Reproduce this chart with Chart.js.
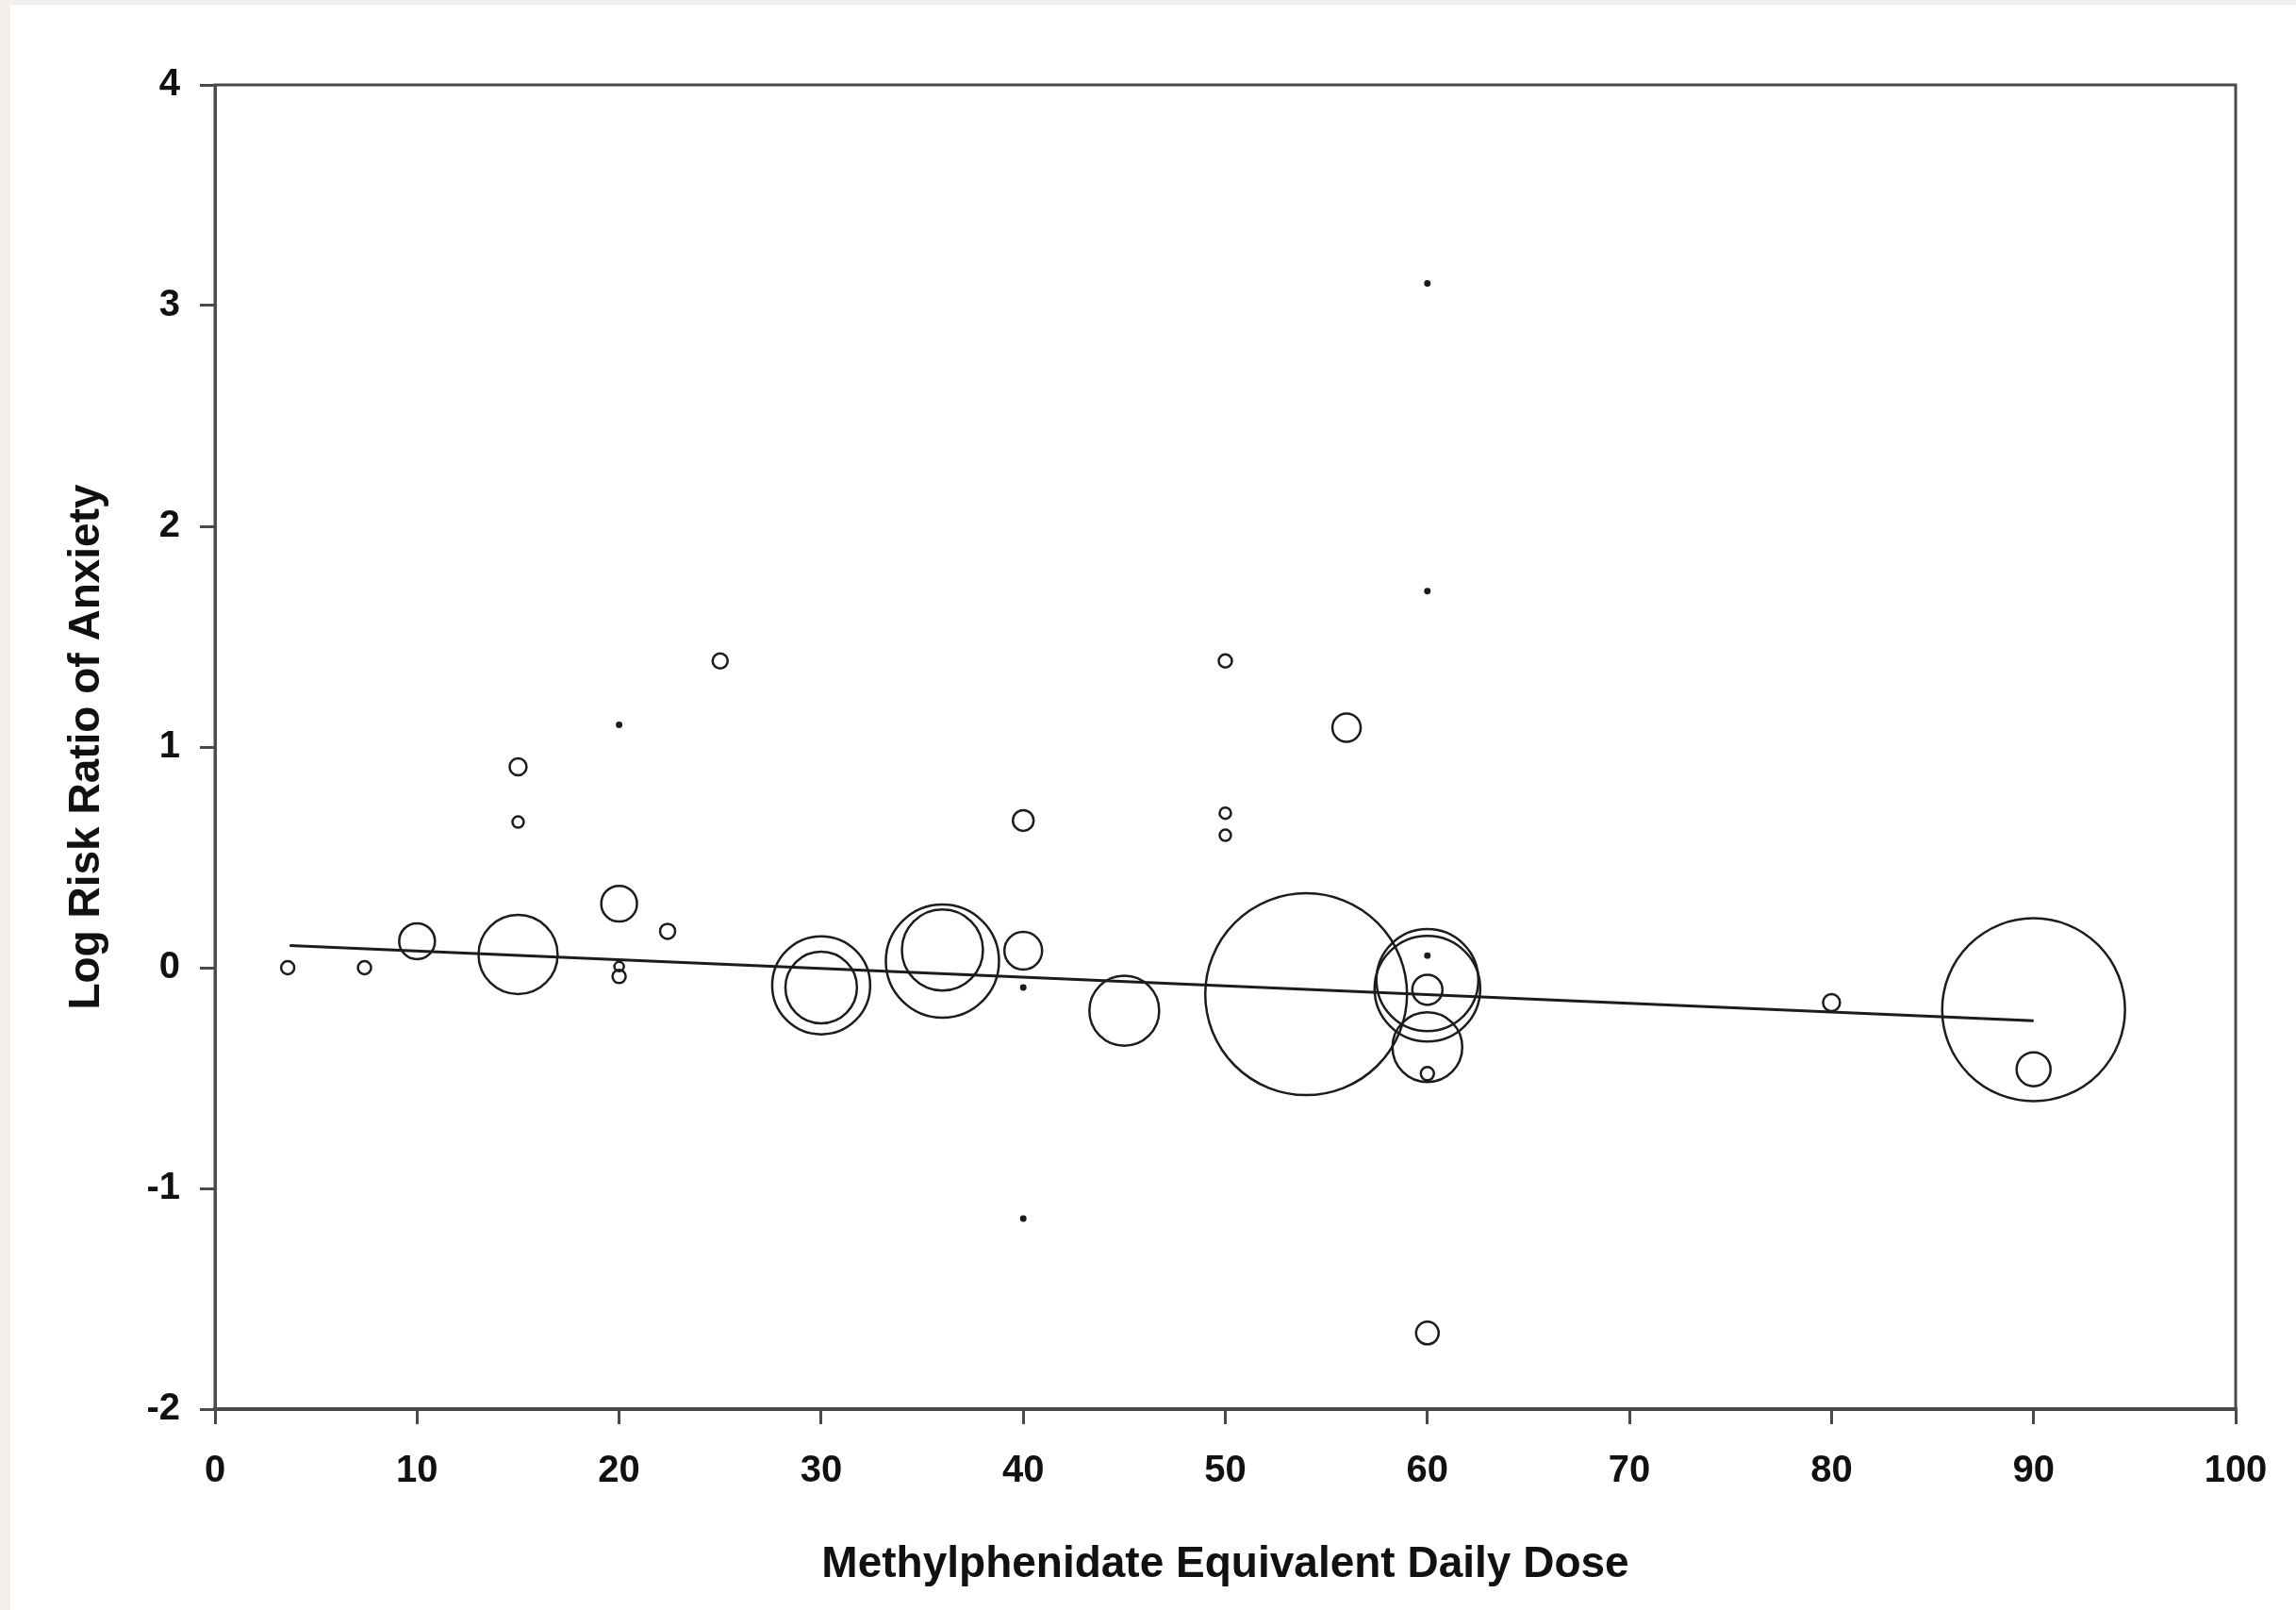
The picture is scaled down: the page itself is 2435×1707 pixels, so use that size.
<!DOCTYPE html>
<html>
<head>
<meta charset="utf-8">
<title>Log Risk Ratio of Anxiety vs Methylphenidate Equivalent Daily Dose</title>
<script src="https://cdn.jsdelivr.net/npm/chart.js@4.4.1/dist/chart.umd.min.js"></script>
<style>
    html, body { margin: 0; padding: 0; background: #f3f0ec; }
    #wrap { position: absolute; left: 11px; top: 5px; width: 2424px; height: 1702px; background: #fff; }
    canvas { display: block; }
</style>
</head>
<body>
<div id="wrap"><canvas id="doseChart" width="2424" height="1702"></canvas></div>
<script>
// ──────────────────────────────────────
// Data
// ──────────────────────────────────────

// methylphenidate equivalent daily dose of each study arm
const doses = [
    3.6, 7.4, 10, 15, 15, 15, 20, 20, 20, 20,
    22.4, 25, 30, 30, 36, 36, 40, 40, 40, 40,
    45, 50, 50, 50, 54, 56, 60, 60, 60, 60,
    60, 60, 60, 60, 60, 80, 90, 90
];

// log risk ratio of anxiety
const logRiskRatios = [
    0.00, 0.00, 0.12, 0.06, 0.91, 0.66, 1.10, 0.29, 0.005, -0.04,
    0.165, 1.39, -0.08, -0.09, 0.03, 0.08, 0.667, 0.077, -0.09, -1.137,
    -0.195, 1.39, 0.70, 0.60, -0.12, 1.088, 3.10, 1.706, 0.055, -0.056,
    -0.095, -0.10, -0.36, -0.48, -1.655, -0.158, -0.19, -0.46
];

// relative study weight (bubble area)
const studyWeights = [
    0.49, 0.49, 3.6, 17.6, 0.81, 0.36, 0.05, 3.6, 0.25, 0.49,
    0.64, 0.64, 27, 14.4, 36, 18.5, 1.21, 4.0, 0.05, 0.05,
    13.7, 0.49, 0.36, 0.36, 114.5, 2.25, 0.05, 0.05, 0.05, 29.2,
    31.4, 2.56, 13.7, 0.49, 1.44, 0.81, 94, 3.24
];

// meta-regression line end points
const fitDoses = [3.7, 90];
const fitValues = [0.10, -0.24];

const xTicks = { min: 0, max: 100, step: 10 };
const yTicks = { min: -2, max: 4, step: 1 };

// ──────────────────────────────────────
// Styles
// ──────────────────────────────────────

const INK = '#1c1c1c';
const AXIS = '#4a4a4a';
const FONT = "'Liberation Sans', Arial, sans-serif";
const BUBBLE_SCALE = 10; // px radius per sqrt(weight)

const tickFont = { family: FONT, size: 40, weight: 'bold' };
const titleFont = { family: FONT, size: 46, weight: 'bold' };

const bubbles = doses.map((d, i) => ({
    x: d,
    y: logRiskRatios[i],
    r: Math.sqrt(studyWeights[i]) * BUBBLE_SCALE,
}));

const fitLine = fitDoses.map((d, i) => ({ x: d, y: fitValues[i] }));

// top and right frame lines
const framePlugin = {
    id: 'frame',
    afterDatasetsDraw(chart) {
        const { ctx, chartArea: a } = chart;
        ctx.save();
        ctx.strokeStyle = AXIS;
        ctx.lineWidth = 3;
        ctx.strokeRect(a.left, a.top, a.right - a.left, a.bottom - a.top);
        ctx.restore();
    }
};

new Chart(document.getElementById('doseChart'), {
    type: 'bubble',
    data: {
        datasets: [
            {
                label: 'Studies',
                data: bubbles,
                // the tiniest studies print as solid dots
                backgroundColor: (c) => (studyWeights[c.dataIndex] < 0.1 ? INK : 'rgba(0,0,0,0)'),
                borderColor: INK,
                borderWidth: 2.5,
                hoverRadius: 0,
                order: 1,
            },
            {
                label: 'Meta-regression',
                type: 'line',
                data: fitLine,
                borderColor: INK,
                borderWidth: 3,
                pointRadius: 0,
                fill: false,
                tension: 0,
                order: 0,
            }
        ]
    },
    options: {
        responsive: false,
        animation: false,
        events: [],
        layout: {
            autoPadding: false, // keep the big bubbles from shrinking the plot
            padding: { top: 85, right: 64, left: 0, bottom: 0 },
        },
        plugins: {
            legend: { display: false },
            tooltip: { enabled: false },
        },
        scales: {
            x: {
                type: 'linear',
                min: xTicks.min,
                max: xTicks.max,
                ticks: {
                    stepSize: xTicks.step,
                    padding: 26,
                    font: tickFont,
                    color: '#111',
                },
                grid: {
                    display: true,
                    drawOnChartArea: false,
                    drawTicks: true,
                    tickLength: 16,
                    color: AXIS,
                    lineWidth: 3,
                },
                border: { display: true, color: AXIS, width: 4 },
                title: {
                    display: true,
                    text: 'Methylphenidate Equivalent Daily Dose',
                    font: titleFont,
                    color: '#111',
                    padding: { top: 0, bottom: 20 },
                },
                afterFit: (scale) => { scale.height = 213; },
            },
            y: {
                type: 'linear',
                min: yTicks.min,
                max: yTicks.max,
                ticks: {
                    stepSize: yTicks.step,
                    padding: 21,
                    font: tickFont,
                    color: '#111',
                },
                grid: {
                    display: true,
                    drawOnChartArea: false,
                    drawTicks: true,
                    tickLength: 16,
                    color: AXIS,
                    lineWidth: 3,
                },
                border: { display: true, color: AXIS, width: 3 },
                title: {
                    display: true,
                    text: 'Log Risk Ratio of Anxiety',
                    font: titleFont,
                    color: '#111',
                    padding: { top: 54, bottom: 0 },
                },
                afterFit: (scale) => { scale.width = 217; },
            }
        }
    },
    plugins: [framePlugin]
});
</script>
</body>
</html>
